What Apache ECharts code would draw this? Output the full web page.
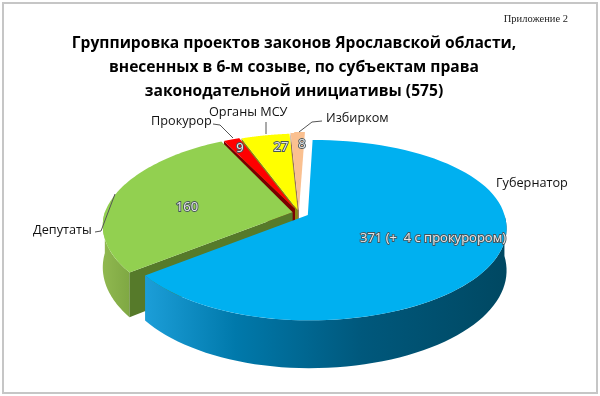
<!DOCTYPE html>
<html>
<head>
    <meta charset="utf-8" />
    <title>Группировка проектов законов</title>
    <script src="https://cdn.jsdelivr.net/npm/echarts@6/dist/echarts.min.js"></script>
    <style>
        html, body { margin: 0; padding: 0; background: #ffffff; }
        #main { width: 600px; height: 396px; }
    </style>
</head>
<body>
<div id="main"></div>
<script type="text/javascript">
    // данные с картинки
    var categories = ['Губернатор', 'Депутаты', 'Прокурор', 'Органы МСУ', 'Избирком'];
    var values = [371, 160, 9, 27, 8];
    var valueLabels = ['371 (+  4 с прокурором)', '160', '9', '27', '8'];
    var titleLines = [
        'Группировка проектов законов Ярославской области,',
        'внесенных в 6-м созыве, по субъектам права',
        'законодательной инициативы (575)'
    ];

    // цвета секторов
    var topColors = ['#00B0F0', '#92D050', '#FF0000', '#FFFF00', '#FAC090'];
    var wallColors = ['#00587a', '#567a2a', '#7a0000', '#8a8a10', '#96735a'];

    // геометрия псевдо-3D круга
    var cx = 299, cy = 213, rxLeft = 188, rxRight = 196, ry = 90, persp = 0.14, depth = 41;
    var backLean = 6;
    var ryBack = [85, 90, 87, 88, 90];
    var explode = [0.05, 0.035, 0.055, 0.035, 0.03];
    var valuePos = [[433, 238], [187, 207], [240, 148], [281, 147], [302, 144]];
    var total = values.reduce(function (a, b) { return a + b; }, 0);

    function project(i, angle, r, mid, e, drop) {
        var u = r * Math.sin(angle) + e * Math.sin(mid);
        var v = -r * Math.cos(angle) - e * Math.cos(mid);
        var s = 1 / (1 - persp * v);
        var rx = u < 0 ? rxLeft : rxRight;
        var lean = v < 0 ? -v * backLean : 0;
        var h = v < 0 ? ryBack[i] : ry;
        return [cx + rx * u * s + lean, cy + h * v * s + (drop ? depth * s : 0)];
    }

    function renderSlice(params, api) {
        var i = params.dataIndex;
        var before = 0;
        for (var k = 0; k < i; k++) before += values[k];
        var a0 = before / total * Math.PI * 2;
        var a1 = (before + api.value(0)) / total * Math.PI * 2;
        var mid = (a0 + a1) / 2;
        var e = explode[i];
        // рисуем от дальних секторов к ближним
        var base = i === 0 ? 30 : (5 - i) * 4;
        var children = [];
        var j, a;

        // внешняя стенка, только передняя часть
        var sa0 = Math.max(a0, Math.PI / 2), sa1 = Math.min(a1, Math.PI * 1.5);
        if (sa1 > sa0) {
            var side = [], back = [];
            for (j = 0; j <= 60; j++) {
                a = sa0 + (sa1 - sa0) * j / 60;
                side.push(project(i, a, 1, mid, e, false));
                back.unshift(project(i, a, 1, mid, e, true));
            }
            var fill = i === 0
                ? new echarts.graphic.LinearGradient(0, 0, 1, 0, [
                    { offset: 0, color: '#1c9ed8' },
                    { offset: 0.25, color: '#0079ab' },
                    { offset: 0.6, color: '#00587c' },
                    { offset: 1, color: '#004862' }
                ])
                : new echarts.graphic.LinearGradient(0, 0, 1, 0, [
                    { offset: 0, color: '#90b850' },
                    { offset: 1, color: '#7fa843' }
                ]);
            children.push({
                type: 'polygon', z2: base,
                shape: { points: side.concat(back) },
                style: { fill: fill }
            });
        }

        // срез слева
        if (a0 > Math.PI) {
            children.push({
                type: 'polygon', z2: base + 1,
                shape: { points: [
                    project(i, a0, 0, mid, e, false),
                    project(i, a0, 1, mid, e, false),
                    project(i, a0, 1, mid, e, true),
                    project(i, a0, 0, mid, e, true)
                ] },
                style: { fill: wallColors[i] }
            });
        }

        // верхняя грань
        var pts = [project(i, a0, 0, mid, e, false)];
        for (j = 0; j <= 80; j++) {
            pts.push(project(i, a0 + (a1 - a0) * j / 80, 1, mid, e, false));
        }
        children.push({
            type: 'polygon', z2: base + 2,
            shape: { points: pts },
            style: { fill: topColors[i] }
        });

        // подпись значения
        children.push({
            type: 'text', z2: 40,
            x: valuePos[i][0], y: valuePos[i][1],
            style: {
                text: valueLabels[i],
                fill: '#e6e6e6', stroke: '#46555c', lineWidth: 1.8,
                font: '13px "Open Sans"', textAlign: 'center', textVerticalAlign: 'middle'
            }
        });
        return { type: 'group', children: children };
    }

    var myChart = echarts.init(document.getElementById('main'), null, { renderer: 'canvas' });

    function textEl(str, x, y, align) {
        return {
            type: 'text', x: x, y: y, z: 5,
            style: { text: str, fill: '#111111', font: '12.7px "Open Sans"', textAlign: align, textVerticalAlign: 'middle' }
        };
    }
    function leader(points) {
        return {
            type: 'polyline', z: 5,
            shape: { points: points },
            style: { stroke: '#555555', lineWidth: 1, fill: null }
        };
    }

    var option = {
        backgroundColor: '#ffffff',
        animation: false,
        title: {
            text: titleLines.join('\n'),
            left: 289, top: 27, textAlign: 'center',
            textStyle: { fontFamily: 'Open Sans', fontSize: 15.6, fontWeight: 'bold', color: '#000000', lineHeight: 24 }
        },
        graphic: [
            {
                type: 'rect', z: 0,
                shape: { x: 3, y: 3, width: 594, height: 390 },
                style: { fill: null, stroke: '#c6c6c6', lineWidth: 2 }
            },
            {
                type: 'text', x: 568, y: 19, z: 5,
                style: { text: 'Приложение 2', fill: '#222222', font: '10.5px "Liberation Serif"', textAlign: 'right', textVerticalAlign: 'middle' }
            },
            textEl(categories[0], 496, 183, 'left'),
            textEl(categories[1], 33, 230, 'left'),
            textEl(categories[2], 151, 121, 'left'),
            textEl(categories[3], 209, 112, 'left'),
            textEl(categories[4], 326, 118, 'left'),
            leader([[95, 232], [101, 231], [115, 194]]),
            leader([[213, 124], [220, 125], [233, 138]]),
            leader([[266, 122], [266, 134]]),
            leader([[322, 121], [312, 122], [299, 132]])
        ],
        series: [{
            type: 'custom',
            coordinateSystem: 'none',
            silent: true,
            renderItem: renderSlice,
            data: values.map(function (v) { return [v]; })
        }]
    };
    myChart.setOption(option);
</script>
</body>
</html>
